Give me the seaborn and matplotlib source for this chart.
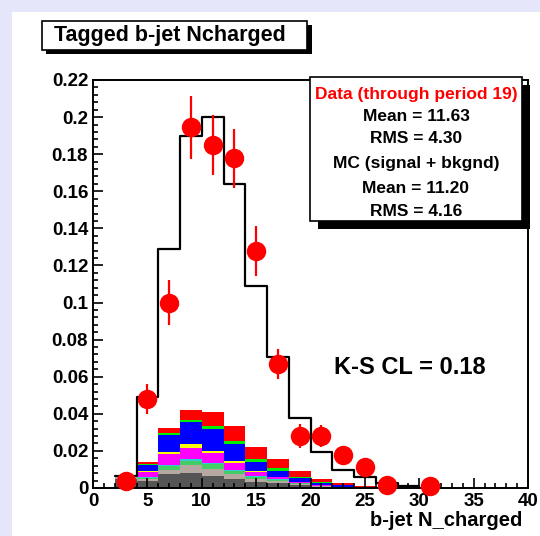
import numpy as np
import pandas as pd
import seaborn as sns
import matplotlib
matplotlib.use('Agg')
from matplotlib import pyplot as plt
from matplotlib.patches import Rectangle
from matplotlib.ticker import MultipleLocator, FuncFormatter

sns.set_style('ticks')
plt.rcParams['font.family'] = ['Liberation Sans', 'DejaVu Sans']
plt.rcParams['font.weight'] = 'bold'
for k in ['text.color', 'axes.labelcolor', 'xtick.color', 'ytick.color', 'axes.edgecolor']:
    plt.rcParams[k] = 'black'
plt.rcParams['xtick.direction'] = 'in'
plt.rcParams['ytick.direction'] = 'in'

# 分箱 (宽度 2)
bin_edges = [2, 4, 6, 8, 10, 12, 14, 16, 18, 20, 22, 24, 26, 28, 30]
bin_centers = [3, 5, 7, 9, 11, 13, 15, 17, 19, 21, 23, 25, 27, 29]

# MC 总和 (黑色阶梯)
mc_total = [0.0066, 0.049, 0.129, 0.190, 0.200, 0.164, 0.109, 0.0706,
            0.038, 0.0196, 0.0097, 0.006, 0.0027, 0.001]

# 堆叠的各成分 (从下到上)
comp_dark = [0.005, 0.004, 0.0075, 0.0079, 0.0065, 0.0049, 0.0034, 0.0025, 0.0014, 0.0008, 0.0004, 0.0002, 0.0001, 0]
comp_tan = [0.001, 0.0008, 0.0022, 0.0043, 0.0036, 0.0026, 0.0013, 0.0015, 0.0008, 0.0003, 0.0002, 0.0001, 0, 0]
comp_green2 = [0, 0.0004, 0.0022, 0.0024, 0.0027, 0.0017, 0.0013, 0.0004, 0.0004, 0.0001, 0.0001, 0, 0, 0]
comp_teal = [0, 0.0006, 0.0005, 0.0009, 0.0005, 0.0005, 0.0005, 0.0002, 0.0002, 0.0001, 0, 0, 0, 0]
comp_magenta = [0, 0.003, 0.0058, 0.0062, 0.0054, 0.004, 0.0023, 0.0013, 0.0005, 0.0002, 0.0001, 0.0001, 0, 0]
comp_yellow = [0, 0.0004, 0.001, 0.0019, 0.0014, 0.0009, 0.0005, 0.0003, 0.0002, 0.0001, 0, 0, 0, 0]
comp_blue = [0, 0.0032, 0.0092, 0.012, 0.0117, 0.009, 0.0049, 0.0031, 0.0021, 0.0011, 0.0006, 0.0003, 0.0001, 0]
comp_green = [0, 0.0004, 0.0011, 0.0011, 0.0016, 0.0019, 0.0013, 0.0013, 0.0005, 0.0003, 0.0002, 0.0001, 0, 0]
comp_red = [0.0003, 0.0011, 0.003, 0.0053, 0.0074, 0.0079, 0.0066, 0.0049, 0.0032, 0.0019, 0.0009, 0.0004, 0.0003, 0]

# 数据点
data_x = [3, 5, 7, 9, 11, 13, 15, 17, 19, 21, 23, 25, 27, 31]
data_y = [0.004, 0.048, 0.100, 0.1945, 0.185, 0.1777, 0.128, 0.067,
          0.028, 0.028, 0.0178, 0.0113, 0.0016, 0.001]
data_err = [0.003, 0.008, 0.012, 0.017, 0.016, 0.016, 0.0135, 0.008,
            0.0067, 0.006, 0.005, 0.004, 0.001, 0.001]

# 顶层在前 (seaborn 堆叠时第一个在最上面)
comps = {
    'red': (comp_red, '#ff0000'),
    'green': (comp_green, '#00ee00'),
    'blue': (comp_blue, '#0000ff'),
    'yellow': (comp_yellow, '#ffff00'),
    'magenta': (comp_magenta, '#ff00ff'),
    'teal': (comp_teal, '#33cccc'),
    'green2': (comp_green2, '#44cc66'),
    'tan': (comp_tan, '#b4a8a0'),
    'dark': (comp_dark, '#555555'),
}
rows = []
for name, (vals, col) in comps.items():
    for c, v in zip(bin_centers, vals):
        rows.append({'x': c, 'w': v, 'comp': name})
stack_df = pd.DataFrame(rows)
palette = {k: v[1] for k, v in comps.items()}

W, H = 540, 536
fig = plt.figure(figsize=(W / 100, H / 100), dpi=100, facecolor='#e6e6fa')


def px_rect(x0, y0, x1, y1, **kw):
    # 像素坐标 (左上为原点) -> figure 坐标
    return Rectangle((x0 / W, 1 - y1 / H), (x1 - x0) / W, (y1 - y0) / H,
                     transform=fig.transFigure, **kw)


fig.patches.append(px_rect(12, 12, W, H, facecolor='white', edgecolor='none', zorder=-5))

ax = fig.add_axes([93 / W, 1 - 488 / H, (528 - 93) / W, (488 - 80) / H])
ax.set_facecolor('white')

sns.histplot(data=stack_df, x='x', weights='w', hue='comp', hue_order=list(comps.keys()),
             palette=palette, multiple='stack', bins=bin_edges, element='bars',
             linewidth=0, alpha=1, legend=False, ax=ax, zorder=1)
sns.histplot(x=bin_centers, weights=mc_total, bins=bin_edges, element='step', fill=False,
             color='black', linewidth=1.6, ax=ax, zorder=3)
ax.errorbar(data_x, data_y, yerr=data_err, fmt='o', color='red', ms=14, mew=0,
            elinewidth=1.6, capsize=0, zorder=5, clip_on=False)

ax.set_xlim(0, 40)
ax.set_ylim(0, 0.22)
ax.xaxis.set_major_locator(MultipleLocator(5))
ax.xaxis.set_minor_locator(MultipleLocator(1))
ax.yaxis.set_major_locator(MultipleLocator(0.02))
ax.yaxis.set_minor_locator(MultipleLocator(0.004))
ax.yaxis.set_major_formatter(FuncFormatter(lambda v, p: '%g' % round(v, 4)))
ax.tick_params(which='both', direction='in', top=False, right=False, bottom=True, left=True,
               width=1.2, color='black', labelsize=13.5, pad=3.5)
ax.tick_params(which='major', length=7)
ax.tick_params(which='minor', length=3.5)
ax.set_axisbelow(False)
for s in ax.spines.values():
    s.set_linewidth(1.4)
    s.set_color('black')
    s.set_visible(True)
ax.set_xlabel('')
ax.set_ylabel('')

fig.text(522 / W, 1 - 520 / H, 'b-jet N_charged', ha='right', va='center',
         fontsize=14.5, fontweight='bold')

# 标题框
fig.patches.append(px_rect(46, 25, 312, 54, facecolor='black', edgecolor='none', zorder=5))
fig.patches.append(px_rect(42, 21, 307, 50, facecolor='white', edgecolor='black', lw=1.2, zorder=6))
fig.text(170 / W, 1 - 36 / H, 'Tagged b-jet Ncharged', ha='center', va='center',
         fontsize=15.5, fontweight='bold', zorder=7)

# 统计框
fig.patches.append(px_rect(318, 85, 530, 229, facecolor='black', edgecolor='none', zorder=5))
fig.patches.append(px_rect(310, 77, 522, 221, facecolor='white', edgecolor='black', lw=1.2, zorder=6))
stat_lines = [('Data (through period 19)', 'red', 95),
              ('Mean = 11.63', 'black', 116.7),
              ('RMS = 4.30', 'black', 138.3),
              ('MC (signal + bkgnd)', 'black', 163.3),
              ('Mean = 11.20', 'black', 188.3),
              ('RMS = 4.16', 'black', 211.7)]
for txt, col, yp in stat_lines:
    fig.text(416 / W, 1 - yp / H, txt, ha='center', va='center', color=col,
             fontsize=12.5, fontweight='bold', zorder=7)

fig.text(410 / W, 1 - 367 / H, 'K-S CL = 0.18', ha='center', va='center',
         fontsize=17, fontweight='bold')

fig.savefig('out.png', dpi=100, facecolor=fig.get_facecolor())
